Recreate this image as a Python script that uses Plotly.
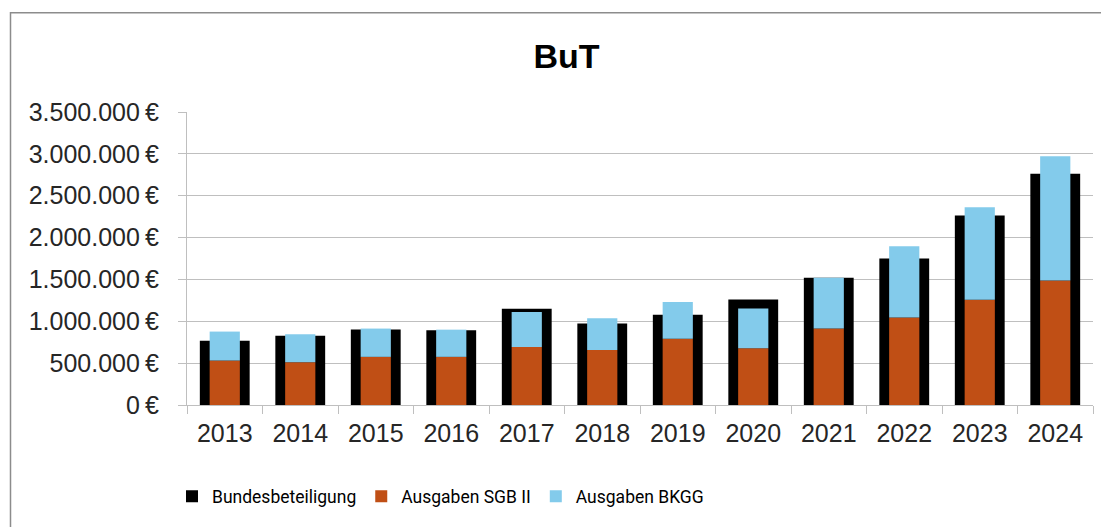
import plotly.graph_objects as go

years = ["2013", "2014", "2015", "2016", "2017", "2018", "2019", "2020", "2021", "2022", "2023", "2024"]
bundesbeteiligung = [766000, 826000, 901000, 893000, 1150000, 975000, 1079000, 1261000, 1520000, 1751000, 2264000, 2761000]
ausgaben_sgb2 = [531000, 511000, 575000, 575000, 692000, 656000, 792000, 677000, 915000, 1046000, 1258000, 1488000]
ausgaben_bkgg_total = [877000, 845000, 913000, 900000, 1110000, 1035000, 1229000, 1154000, 1520000, 1897000, 2363000, 2971000]
ausgaben_bkgg = [t - s for t, s in zip(ausgaben_bkgg_total, ausgaben_sgb2)]

OFF = 8  # page body margin
W, H = 1109 - OFF, 527 - OFF
L, R, T, B = 187 - OFF, 1109 - 1093, 112 - OFF, 527 - 405.5
pw, ph = W - L - R, H - T - B

def px_x(x):
    return (x - OFF - L) / pw

def px_y(y):
    return (H - B - (y - OFF)) / ph

tick_font = dict(family="Liberation Sans, Arial, sans-serif", size=25, color="#262626")

fig = go.Figure()
fig.add_trace(go.Bar(name="Bundesbeteiligung", x=years, y=bundesbeteiligung,
                     width=0.66, marker=dict(color="#000000", line=dict(width=0))))
fig.add_trace(go.Bar(name="Ausgaben SGB II", x=years, y=ausgaben_sgb2,
                     width=0.4, marker=dict(color="#C04F15", line=dict(width=0))))
fig.add_trace(go.Bar(name="Ausgaben BKGG", x=years, y=ausgaben_bkgg, base=ausgaben_sgb2,
                     width=0.4, marker=dict(color="#83CBEB", line=dict(width=0))))

fig.update_layout(
    width=W, height=H,
    margin=dict(l=L, r=R, t=T, b=B, autoexpand=False),
    barmode="overlay",
    separators=",.",
    paper_bgcolor="white", plot_bgcolor="white",
    title=dict(text="<b>BuT</b>", x=(566.5 - OFF) / W, xanchor="center", y=1 - (56 - OFF) / H, yanchor="middle",
               font=dict(family="Liberation Sans, Arial, sans-serif", size=34, color="#000000")),
    xaxis=dict(type="category", showline=True, linecolor="#BFBFBF", linewidth=1.3,
               ticks="outside", tickson="boundaries", ticklen=8, tickcolor="#BFBFBF", tickwidth=1.3,
               tickfont=tick_font, ticklabelstandoff=6, showgrid=False),
    yaxis=dict(range=[0, 3500000], dtick=500000, tickformat=",.0f", ticksuffix="\u2009€",
               showline=True, linecolor="#BFBFBF", linewidth=1.3,
               ticks="outside", ticklen=8, tickcolor="#BFBFBF", tickwidth=1.3,
               showgrid=True, gridcolor="#BFBFBF", gridwidth=1.3, zeroline=False,
               tickfont=tick_font, ticklabelstandoff=14),
    legend=dict(orientation="h", x=px_x(172), xanchor="left", y=px_y(497), yanchor="middle",
                font=dict(family="Roboto, Liberation Sans, sans-serif", size=17.5, color="#000000"),
                traceorder="normal"),
    showlegend=True,
    shapes=[dict(type="rect", xref="paper", yref="paper",
                 x0=px_x(10.5), x1=px_x(1130), y0=px_y(560), y1=px_y(12.5),
                 line=dict(color="#8C8C8C", width=1.5), fillcolor="rgba(0,0,0,0)", layer="below")],
)

fig.write_html("out.html")
